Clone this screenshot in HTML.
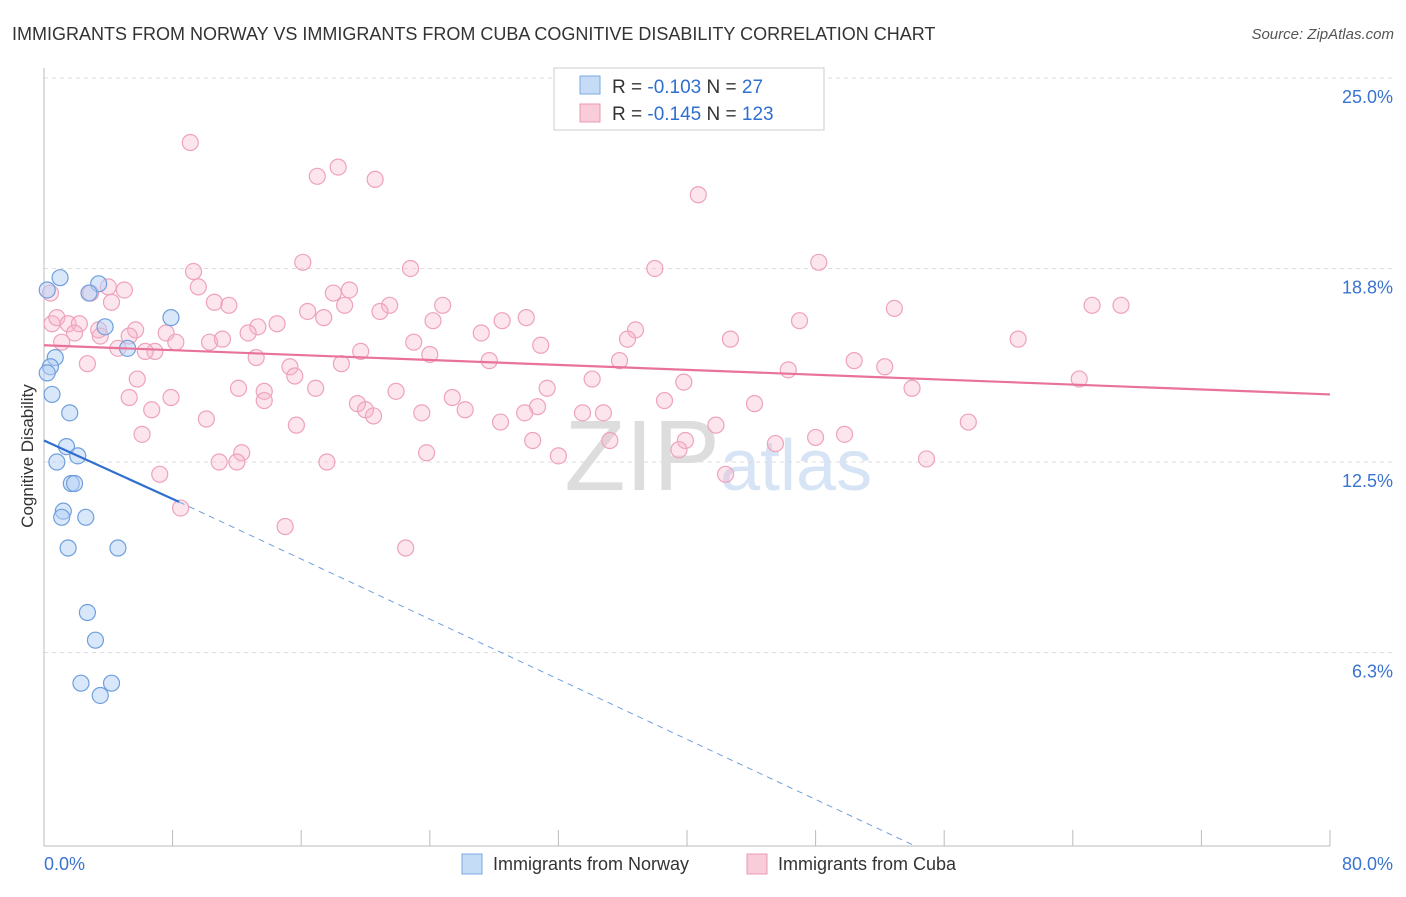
<!DOCTYPE html>
<html><head><meta charset="utf-8"><style>
body{margin:0;background:#fff;font-family:"Liberation Sans",sans-serif;}
svg text{font-family:"Liberation Sans",sans-serif;}
</style></head><body>
<svg id="c" width="1406" height="892" xmlns="http://www.w3.org/2000/svg">
<text x="12" y="40" font-size="18" fill="#333">IMMIGRANTS FROM NORWAY VS IMMIGRANTS FROM CUBA COGNITIVE DISABILITY CORRELATION CHART</text>
<text x="1394" y="39" font-size="15" fill="#555" font-style="italic" text-anchor="end">Source: ZipAtlas.com</text>
<text x="33" y="456" font-size="17" fill="#333" text-anchor="middle" transform="rotate(-90 33 456)">Cognitive Disability</text>
<text x="720" y="490" font-size="100" fill="#ddd" text-anchor="end" font-family="Liberation Serif">ZIP</text>
<text x="720" y="490" font-size="72" fill="#d6e4f5">atlas</text>
<g id="grid"></g><g id="pts"></g><g id="lines"></g>
<g>
<rect x="554" y="68" width="270" height="62" fill="#fff" stroke="#ccc"/>
<rect x="580" y="76" width="20" height="18" fill="#c5dcf7" stroke="#7aa8e0"/>
<rect x="580" y="104" width="20" height="18" fill="#f9ccd9" stroke="#eb98b4"/>
<text x="612" y="93" font-size="19" fill="#333">R = <tspan fill="#2f6fcf">-0.103</tspan>   N = <tspan fill="#2f6fcf"> 27</tspan></text>
<text x="612" y="120" font-size="19" fill="#333">R = <tspan fill="#2f6fcf">-0.145</tspan>   N = <tspan fill="#2f6fcf">123</tspan></text>
</g>
<g>
<rect x="462" y="854" width="20" height="20" fill="#c5dcf7" stroke="#7aa8e0"/>
<text x="493" y="870" font-size="18" fill="#333">Immigrants from Norway</text>
<rect x="747" y="854" width="20" height="20" fill="#f9ccd9" stroke="#eb98b4"/>
<text x="778" y="870" font-size="18" fill="#333">Immigrants from Cuba</text>
</g>
</svg>
<script>
const yTicks=[25.0,18.8,12.5,6.3];
const yTickLabels=["25.0%","18.8%","12.5%","6.3%"];
const xLabels=["0.0%","80.0%"];
const norway=[[0.2,18.1],[1.0,18.5],[3.4,18.3],[2.8,18.0],[3.8,16.9],[5.2,16.2],[7.9,17.2],[0.7,15.9],[0.4,15.6],[0.2,15.4],[0.5,14.7],[1.6,14.1],[1.4,13.0],[2.1,12.7],[0.8,12.5],[1.7,11.8],[1.9,11.8],[1.2,10.9],[1.1,10.7],[2.6,10.7],[1.5,9.7],[4.6,9.7],[2.7,7.6],[3.2,6.7],[2.3,5.3],[4.2,5.3],[3.5,4.9]];
const cuba=[[9.1,22.9],[18.3,22.1],[17.0,21.8],[20.6,21.7],[40.7,21.2],[48.2,19.0],[16.1,19.0],[9.3,18.7],[22.8,18.8],[38.0,18.8],[0.4,18.0],[9.6,18.2],[4.0,18.2],[5.0,18.1],[2.9,18.0],[19.0,18.1],[18.0,18.0],[4.2,17.7],[10.6,17.7],[11.5,17.6],[24.8,17.6],[21.5,17.6],[18.7,17.6],[65.2,17.6],[67.0,17.6],[52.9,17.5],[16.4,17.4],[20.9,17.4],[0.5,17.0],[0.8,17.2],[1.5,17.0],[2.2,17.0],[3.4,16.8],[5.7,16.8],[14.5,17.0],[13.3,16.9],[17.4,17.2],[24.2,17.1],[28.5,17.1],[30.0,17.2],[47.0,17.1],[36.8,16.8],[27.2,16.7],[7.6,16.7],[3.5,16.6],[5.3,16.6],[1.9,16.7],[1.1,16.4],[10.3,16.4],[12.7,16.7],[11.1,16.5],[8.2,16.4],[42.7,16.5],[60.6,16.5],[36.3,16.5],[23.0,16.4],[30.9,16.3],[4.6,16.2],[6.9,16.1],[6.3,16.1],[19.7,16.1],[24.0,16.0],[13.2,15.9],[2.7,15.7],[35.8,15.8],[27.7,15.8],[15.3,15.6],[18.5,15.7],[50.4,15.8],[52.3,15.6],[46.3,15.5],[15.6,15.3],[5.8,15.2],[34.1,15.2],[64.4,15.2],[39.8,15.1],[12.1,14.9],[16.9,14.9],[13.7,14.8],[31.3,14.9],[21.9,14.8],[54.0,14.9],[5.3,14.6],[7.9,14.6],[13.7,14.5],[25.4,14.6],[19.5,14.4],[30.7,14.3],[38.6,14.5],[6.7,14.2],[20.0,14.2],[20.5,14.0],[23.5,14.1],[44.2,14.4],[10.1,13.9],[26.2,14.2],[33.5,14.1],[34.8,14.1],[29.9,14.1],[15.7,13.7],[28.4,13.8],[41.8,13.7],[57.5,13.8],[6.1,13.4],[30.4,13.2],[35.2,13.2],[39.9,13.2],[45.5,13.1],[48.0,13.3],[49.8,13.4],[23.8,12.8],[32.0,12.7],[12.3,12.8],[10.9,12.5],[12.0,12.5],[17.6,12.5],[39.5,12.9],[54.9,12.6],[7.2,12.1],[42.4,12.1],[8.5,11.0],[15.0,10.4],[22.5,9.7]];
const X=v=>44+v*16.075, Y=v=>78+(25-v)*30.72;
const NS="http://www.w3.org/2000/svg";
function mk(tag,attrs,parent){const e=document.createElementNS(NS,tag);for(const k in attrs)e.setAttribute(k,attrs[k]);parent.appendChild(e);return e;}
const grid=document.getElementById('grid'),svg=document.getElementById('c');
yTicks.forEach((t,i)=>{
 const l=mk('line',{x1:44,x2:1393,y1:Y(t),y2:Y(t),stroke:'#ddd','stroke-dasharray':'4,4'},grid);
 
 
 const tx=mk('text',{x:1393,y:Y(t)+25,'font-size':18,fill:'#3a74d0','text-anchor':'end'},grid);
 tx.textContent=yTickLabels[i];
 
 
});
mk('line',{x1:44,x2:44,y1:68,y2:846,stroke:'#bbb'},grid);
mk('line',{x1:44,x2:1330,y1:846,y2:846,stroke:'#bbb'},grid);
for(let i=0;i<=10;i++){const t=mk('line',{x1:X(i*8),x2:X(i*8),y1:830,y2:846,stroke:'#bbb'},grid);
 
 }
[[0,44,'start'],[80,1393,'end']].forEach((d,i)=>{const t=mk('text',{x:d[1],y:870,'font-size':18,fill:'#3a74d0','text-anchor':d[2]},grid);t.textContent=xLabels[i];
 
 });
const pts=document.getElementById('pts');
cuba.forEach(p=>{const c=mk('circle',{cx:X(p[0]),cy:Y(p[1]),r:8,fill:'rgba(246,180,200,0.35)',stroke:'#eea2bc','stroke-width':1.2},pts);
 
 });
norway.forEach(p=>{const c=mk('circle',{cx:X(p[0]),cy:Y(p[1]),r:8,fill:'rgba(180,208,245,0.5)',stroke:'#6f9fdc','stroke-width':1.2},pts);
 
 });
const lines=document.getElementById('lines');
const cubaTrend=[[0,16.3],[80,14.7]], norwayTrend=[[0,13.2],[8.4,11.2]], norwayExt=[[8.4,11.2],[54.2,0]];
let l=mk('line',{x1:X(cubaTrend[0][0]),y1:Y(cubaTrend[0][1]),x2:X(cubaTrend[1][0]),y2:Y(cubaTrend[1][1]),stroke:'#e8729a','stroke-width':2.2},lines);


l=mk('line',{x1:X(norwayTrend[0][0]),y1:Y(norwayTrend[0][1]),x2:X(norwayTrend[1][0]),y2:Y(norwayTrend[1][1]),stroke:'#2f6fcf','stroke-width':2.2},lines);


l=mk('line',{x1:X(norwayExt[0][0]),y1:Y(norwayExt[0][1]),x2:X(norwayExt[1][0]),y2:Y(norwayExt[1][1]),stroke:'#6f9fdc','stroke-width':1,'stroke-dasharray':'6,5'},lines);


</script>
</body></html>
